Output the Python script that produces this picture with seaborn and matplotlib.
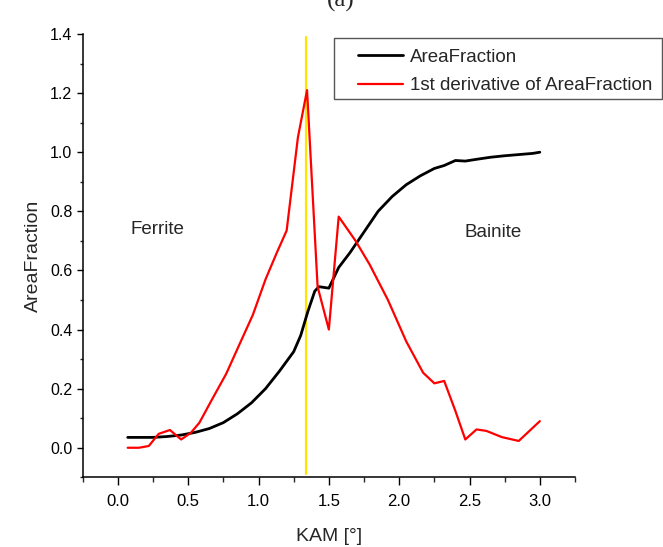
import numpy as np
import pandas as pd
import matplotlib
matplotlib.use("Agg")
import matplotlib.pyplot as plt
from matplotlib.patches import Rectangle
import seaborn as sns

# ---- data ----
kam_area = [0.07, 0.15, 0.25, 0.35, 0.45, 0.55, 0.65, 0.75, 0.85, 0.95, 1.05, 1.15,
            1.25, 1.30, 1.35, 1.40, 1.43, 1.50, 1.57, 1.65, 1.75, 1.85, 1.95, 2.05,
            2.15, 2.25, 2.32, 2.40, 2.47, 2.55, 2.65, 2.75, 2.85, 2.95, 3.00]
area_fraction = [0.035, 0.035, 0.035, 0.038, 0.043, 0.052, 0.065, 0.085, 0.115, 0.152,
                 0.200, 0.260, 0.325, 0.380, 0.460, 0.530, 0.545, 0.540, 0.610, 0.660,
                 0.730, 0.800, 0.850, 0.890, 0.920, 0.945, 0.955, 0.972, 0.970, 0.976,
                 0.983, 0.988, 0.992, 0.996, 1.000]

kam_deriv = [0.07, 0.15, 0.22, 0.29, 0.37, 0.45, 0.52, 0.58, 0.67, 0.77, 0.86, 0.96,
             1.05, 1.13, 1.20, 1.28, 1.345, 1.42, 1.50, 1.57, 1.69, 1.79, 1.92, 2.05,
             2.17, 2.25, 2.32, 2.40, 2.47, 2.55, 2.62, 2.73, 2.85, 3.00]
deriv = [0.000, 0.000, 0.006, 0.047, 0.060, 0.028, 0.051, 0.085, 0.164, 0.250, 0.345,
         0.450, 0.570, 0.660, 0.735, 1.050, 1.210, 0.545, 0.400, 0.782, 0.700, 0.620,
         0.500, 0.360, 0.254, 0.218, 0.226, 0.124, 0.028, 0.062, 0.057, 0.036, 0.023, 0.090]

boundary_kam = 1.34
series_labels = ["AreaFraction", "1st derivative of AreaFraction"]
region_labels = ["Ferrite", "Bainite"]
xticks = [0.0, 0.5, 1.0, 1.5, 2.0, 2.5, 3.0]
yticks = [0.0, 0.2, 0.4, 0.6, 0.8, 1.0, 1.2, 1.4]

df1 = pd.DataFrame({"KAM": kam_area, "val": area_fraction})
df2 = pd.DataFrame({"KAM": kam_deriv, "val": deriv})

sns.set_style("ticks")
plt.rcParams["font.family"] = ["Liberation Sans", "DejaVu Sans"]

W, H = 663, 547
fig = plt.figure(figsize=(6.63, 5.47), dpi=100)
ax = fig.add_axes([82.7 / W, 1 - 477.3 / H, (575 - 82.7) / W, (477.3 - 34) / H])

sns.lineplot(data=df1, x="KAM", y="val", ax=ax, color="black", lw=2.0,
             label=series_labels[0], sort=False)
sns.lineplot(data=df2, x="KAM", y="val", ax=ax, color="#ff0000", lw=1.6,
             label=series_labels[1], sort=False)

ax.plot([boundary_kam, boundary_kam], [-0.09, 1.39], color="#ffe400", lw=1.6, zorder=1)

ax.set_xlim(-0.25, 3.25)
ax.set_ylim(-0.1, 1.4)
ax.set_xticks(xticks)
ax.set_xticklabels([f"{v:.1f}" for v in xticks])
ax.set_yticks(yticks)
ax.set_yticklabels([f"{v:.1f}" for v in yticks])
ax.set_xticks(np.arange(-0.25, 3.26, 0.25), minor=True)
ax.set_yticks(np.arange(-0.1, 1.41, 0.1), minor=True)

for s in ["top", "right"]:
    ax.spines[s].set_visible(False)
for s in ["left", "bottom"]:
    ax.spines[s].set_linewidth(1.1)
    ax.spines[s].set_color("black")

ax.tick_params(axis="x", which="major", direction="out", length=6, width=1.0,
               labelsize=12, pad=6, colors="black")
ax.tick_params(axis="x", which="minor", direction="out", length=3.5, width=1.0)
ax.tick_params(axis="y", which="major", direction="out", length=4.5, width=1.0,
               labelsize=11.5, pad=3, colors="black")
ax.tick_params(axis="y", which="minor", direction="out", length=2.5, width=1.0)

ax.set_xlabel("KAM [°]", fontsize=14, labelpad=14)
ax.set_ylabel("AreaFraction", fontsize=14, labelpad=6)

ax.text(0.28, 0.738, region_labels[0], fontsize=13.5, ha="center", va="center")
ax.text(2.67, 0.728, region_labels[1], fontsize=13.5, ha="center", va="center")

# legend entries without frame, box drawn around them
leg = ax.legend(loc="upper left", bbox_to_anchor=(354 / W, 1 - 45 / H),
                bbox_transform=fig.transFigure, fontsize=13.5, frameon=False,
                handlelength=2.4, borderpad=0.2, labelspacing=0.6,
                handletextpad=0.4, borderaxespad=0)
fig.add_artist(Rectangle((334 / W, 1 - 99 / H), (662 - 334) / W, (99 - 38) / H,
                         transform=fig.transFigure, fill=False, edgecolor="#555555",
                         lw=1.0, zorder=5))

fig.text(341 / W, 1.0, "(a)", fontsize=18, family=["Liberation Serif", "DejaVu Serif"],
         ha="center", va="center")

fig.savefig("out.png", dpi=100)
